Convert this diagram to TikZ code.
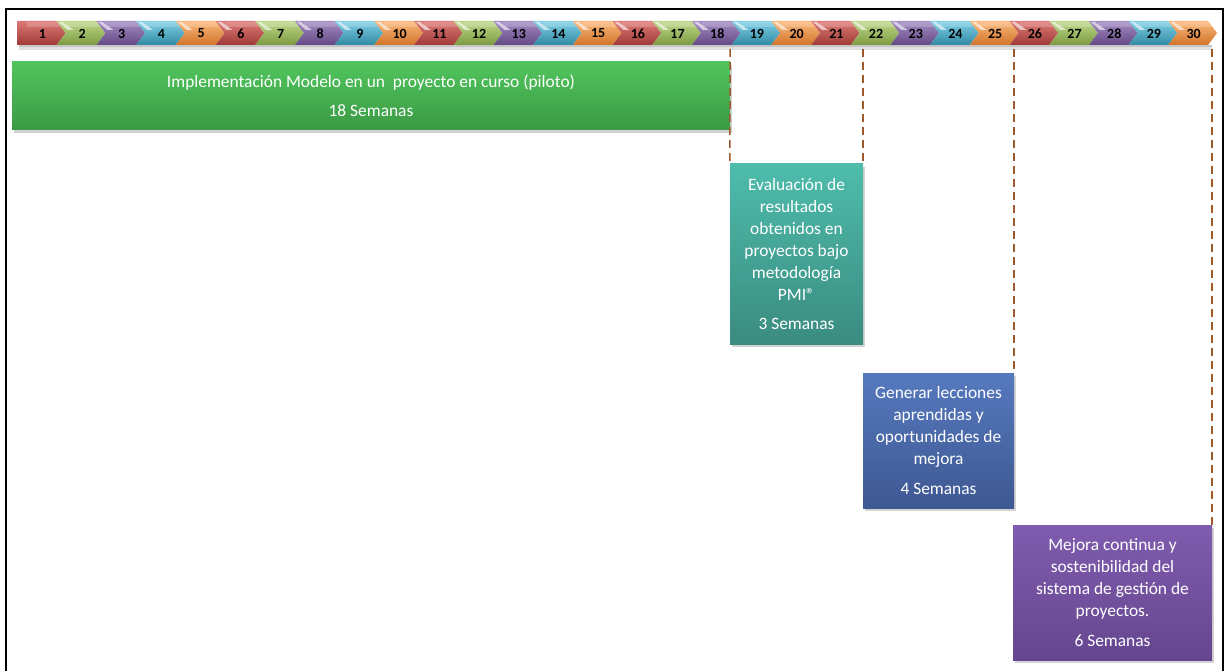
\documentclass[tikz,border=0pt]{standalone}
\usepackage{fontspec}
\setmainfont{Carlito}
\usetikzlibrary{shadows,calc}

% chevron palette (light top / base / dark bottom)
\definecolor{chevT0}{HTML}{DE7A76}\definecolor{chevM0}{HTML}{C0504D}\definecolor{chevB0}{HTML}{9E3A37}
\definecolor{chevT1}{HTML}{BDD88A}\definecolor{chevM1}{HTML}{9BBB59}\definecolor{chevB1}{HTML}{7C9A40}
\definecolor{chevT2}{HTML}{A48BC4}\definecolor{chevM2}{HTML}{8064A2}\definecolor{chevB2}{HTML}{634A84}
\definecolor{chevT3}{HTML}{7FD0E6}\definecolor{chevM3}{HTML}{4BACC6}\definecolor{chevB3}{HTML}{3189A3}
\definecolor{chevT4}{HTML}{FBB87A}\definecolor{chevM4}{HTML}{F79646}\definecolor{chevB4}{HTML}{D0742A}
% task boxes
\definecolor{greenT}{HTML}{50C45C}\definecolor{greenB}{HTML}{3B9A45}
\definecolor{tealT}{HTML}{4EBCAC}\definecolor{tealB}{HTML}{3A8C7F}
\definecolor{blueT}{HTML}{5679BE}\definecolor{blueB}{HTML}{3E5892}
\definecolor{purpT}{HTML}{7F5CAE}\definecolor{purpB}{HTML}{66468F}
\definecolor{guideC}{HTML}{9C5A2C}

\tikzset{
  taskbox/.style={rectangle, inner sep=0pt, text=white, align=center,
    font=\fontsize{17.4}{22}\selectfont,
    drop shadow={shadow xshift=1.5pt, shadow yshift=-3pt, opacity=0.35}},
  guide/.style={draw=guideC, line width=1.5pt, dash pattern=on 8pt off 5pt},
  weeknum/.style={font=\bfseries\fontsize{14}{14}\selectfont, text=black, inner sep=0pt},
}

\begin{document}
\begin{tikzpicture}[x=1pt,y=-1pt]
\useasboundingbox (0,0) rectangle (1228,671);

% outer frame (open at the bottom)
\draw[line width=2pt] (6,671) -- (6,9) -- (1223,9) -- (1223,671);

% shadow under the week bar
\fill[black, opacity=0.12] (19,45) rectangle (1212,50);
\fill[black, opacity=0.12] (19,45) rectangle (1212,47.5);

% week bar: 30 chevrons
\def\p{39.7}
\def\d{9}
\foreach \i [evaluate=\i as \L using {17+(\i-1)*39.7},
             evaluate=\i as \k using {int(mod(\i-1,5))}] in {1,...,30} {
  \ifnum\i=1
    \path[top color=chevT\k, middle color=chevM\k, bottom color=chevB\k]
      (\L,21) -- (\L+\p,21) -- (\L+\p+\d,33) -- (\L+\p,45) -- (\L,45) -- cycle;
  \else
    \path[top color=chevT\k, middle color=chevM\k, bottom color=chevB\k]
      (\L,21) -- (\L+\p,21) -- (\L+\p+\d,33) -- (\L+\p,45) -- (\L,45) -- (\L+\d,33) -- cycle;
    % glossy streak by the notch
    \fill[white, opacity=0.6] (\L+2,22) -- (\L+6,22) -- (\L+17,30) -- (\L+11,30) -- cycle;
  \fi
  \fill[white, opacity=0.18] (\L+\d,22) -- (\L+\p,22) -- (\L+\p+\d*0.5,27) -- (\L+\d*1.2,27) -- cycle;
  \node[weeknum] (c\i) at (\L+0.5*\p+0.5*\d+1,33.5) {\i};
}
\coordinate (barbase) at (17,49);

% tasks
\node[taskbox, top color=greenT, bottom color=greenB, minimum width=718pt, minimum height=68pt]
  (piloto) at (371,96)
  {Implementación Modelo en un\ \ proyecto en curso (piloto)\\[7pt]18 Semanas};

\node[taskbox, top color=tealT, bottom color=tealB, minimum width=133pt, minimum height=180pt]
  (evaluacion) at (796.5,254)
  {Evaluación de\\resultados\\obtenidos en\\proyectos bajo\\metodología\\PMI®\\[7pt]3 Semanas};

\node[taskbox, top color=blueT, bottom color=blueB, minimum width=151pt, minimum height=135pt]
  (lecciones) at (938.5,440.5)
  {Generar lecciones\\aprendidas y\\oportunidades de\\mejora\\[8pt]4 Semanas};

\node[taskbox, top color=purpT, bottom color=purpB, minimum width=199pt, minimum height=135pt]
  (mejora) at (1112.5,592.5)
  {Mejora continua y\\sostenibilidad del\\sistema de gestión de\\proyectos.\\[8pt]6 Semanas};

% week guides down to each task
\draw[guide] (piloto.north east |- barbase) -- (evaluacion.north west);
\draw[guide] (evaluacion.north east |- barbase) -- (evaluacion.north east);
\draw[guide] (lecciones.north east |- barbase) -- (lecciones.north east);
\draw[guide] (mejora.north east |- barbase) -- (mejora.north east);
\end{tikzpicture}
\end{document}
